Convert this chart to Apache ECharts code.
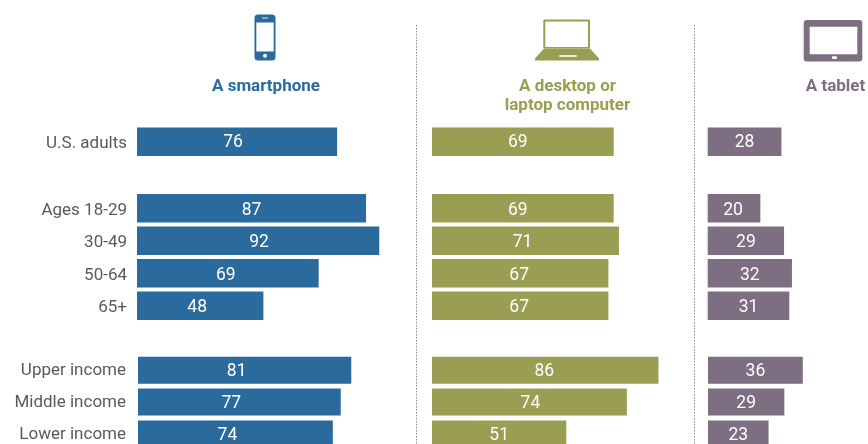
<!DOCTYPE html>
<html>
<head>
<meta charset="utf-8">
<style>html,body{margin:0;padding:0;background:#fff}#chart{width:868px;height:444px}</style>
<script src="https://cdn.jsdelivr.net/npm/echarts@6/dist/echarts.min.js"></script>
</head>
<body>
<div id="chart"></div>
<script>
// Row labels, one list per block of rows
const overallRows = ['U.S. adults'];
const ageRows = ['Ages 18-29', '30-49', '50-64', '65+'];
const incomeRows = ['Upper income', 'Middle income', 'Lower income'];

// Share of adults owning each device, in percent
const smartphoneOverall = [76];
const smartphoneAge = [87, 92, 69, 48];
const smartphoneIncome = [81, 77, 74];
const computerOverall = [69];
const computerAge = [69, 71, 67, 67];
const computerIncome = [86, 74, 51];
const tabletOverall = [28];
const tabletAge = [20, 29, 32, 31];
const tabletIncome = [36, 29, 23];

const FONT = 'Roboto, "Liberation Sans", sans-serif';
const TEXT_GRAY = '#5a5a5c';
const BLUE = '#2a6a9c';
const OLIVE = '#9a9e52';
const PURPLE = '#7d6e82';
const PX_PER_POINT = 2.633;

// Vertical layout of the three row blocks
const blocks = [
  { rows: overallRows, top: 125.5, band: 32.5, bar: 28.5, smartLeft: 137, compLeft: 432, tabLeft: 707.7, labelMargin: 10, rowPad: 4, valueDrop: 1 },
  { rows: ageRows, top: 192, band: 32.53, bar: 28.5, smartLeft: 137, compLeft: 432, tabLeft: 707.7, labelMargin: 10, rowPad: 4, valueDrop: 2 },
  { rows: incomeRows, top: 354.2, band: 31.9, bar: 27, smartLeft: 138, compLeft: 432, tabLeft: 708, labelMargin: 12, rowPad: 2, valueDrop: 1.5 }
];

const columns = [
  { color: BLUE, leftKey: 'smartLeft', values: [smartphoneOverall, smartphoneAge, smartphoneIncome], nudge: [[-4], [0, 1, -2, -3], [-8, -8, -8]] },
  { color: OLIVE, leftKey: 'compLeft', values: [computerOverall, computerAge, computerIncome], nudge: [[-5], [-5, -3, -1, -1], [-1, 1, 0]] },
  { color: PURPLE, leftKey: 'tabLeft', values: [tabletOverall, tabletAge, tabletIncome], nudge: [[0], [-1, 0, 0, 0], [0, 0, 0]] }
];

const grid = [], xAxis = [], yAxis = [], series = [];
columns.forEach((col, c) => {
  blocks.forEach((block, b) => {
    const idx = grid.length;
    // The last rows and the right column run past the canvas edge, so the grids must not be fitted inside it
    grid.push({
      left: block[col.leftKey], top: block.top,
      width: 100 * PX_PER_POINT, height: block.rows.length * block.band,
      outerBoundsMode: 'none', containLabel: false
    });
    xAxis.push({ gridIndex: idx, type: 'value', min: 0, max: 100, show: false });
    yAxis.push({
      gridIndex: idx, type: 'category', inverse: true, data: block.rows,
      axisLine: { show: false }, axisTick: { show: false },
      axisLabel: {
        show: c === 0, margin: block.labelMargin,
        // rich text so the top padding lowers the row name a little
        formatter: name => `{row|${name}}`,
        rich: { row: { color: TEXT_GRAY, fontFamily: FONT, fontSize: 17, padding: [block.rowPad, 0, 0, 0] } }
      }
    });
    series.push({
      type: 'bar', xAxisIndex: idx, yAxisIndex: idx, barWidth: block.bar,
      itemStyle: { color: col.color }, silent: true,
      data: col.values[b].map((v, i) => ({
        value: v,
        label: { offset: [col.nudge[b][i], block.valueDrop] }
      })),
      label: { show: true, position: 'inside', color: '#fff', fontFamily: FONT, fontSize: 17.5 }
    });
  });
});

function heading(text, x, y, color) {
  return { type: 'text', x, y, silent: true, style: {
    text, fill: color, align: 'center', verticalAlign: 'middle',
    font: 'bold 17px ' + FONT
  } };
}
function block(x, y, w, h, fill, r) {
  return { type: 'rect', silent: true, shape: { x, y, width: w, height: h, r: r || 0 }, style: { fill } };
}
function divider(x) {
  return { type: 'line', silent: true, shape: { x1: x, y1: 25, x2: x, y2: 444 },
    style: { stroke: '#8a8a8a', lineWidth: 1, lineDash: [1.5, 1.5] } };
}

const graphic = [
  divider(416.5), divider(694.5),
  heading('A smartphone', 266, 87, BLUE),
  heading('A desktop or', 567.5, 87, OLIVE),
  heading('laptop computer', 567.5, 106, OLIVE),
  heading('A tablet', 835.5, 87, PURPLE),

  // phone icon
  block(254.5, 14.5, 21, 46, BLUE, 3.5),
  block(256.3, 22.5, 17.4, 29, '#fff'),
  block(262, 17.5, 6, 1, '#d8e4ee'),
  block(263, 53.8, 4, 4, '#fff', 2),

  // laptop icon
  block(543.3, 19.5, 46.7, 29, OLIVE, 1),
  block(545.3, 21.5, 42.7, 25.5, '#fff'),
  { type: 'polygon', silent: true, shape: { points: [[544, 48.5], [590, 48.5], [599, 58.5], [599, 60.5], [535, 60.5], [535, 58.5]] }, style: { fill: OLIVE } },
  block(559, 55, 18, 2, '#eef0dc', 1),

  // tablet icon
  block(803.7, 20, 58.6, 41.5, PURPLE, 3),
  block(809.7, 26.7, 47.6, 27.6, '#fff'),
  block(832, 56.3, 5, 2.6, '#fff', 1)
];

const chart = echarts.init(document.getElementById('chart'), null, { renderer: 'canvas' });
chart.setOption({ animation: false, backgroundColor: '#fff', grid, xAxis, yAxis, series, graphic });
</script>
</body>
</html>
